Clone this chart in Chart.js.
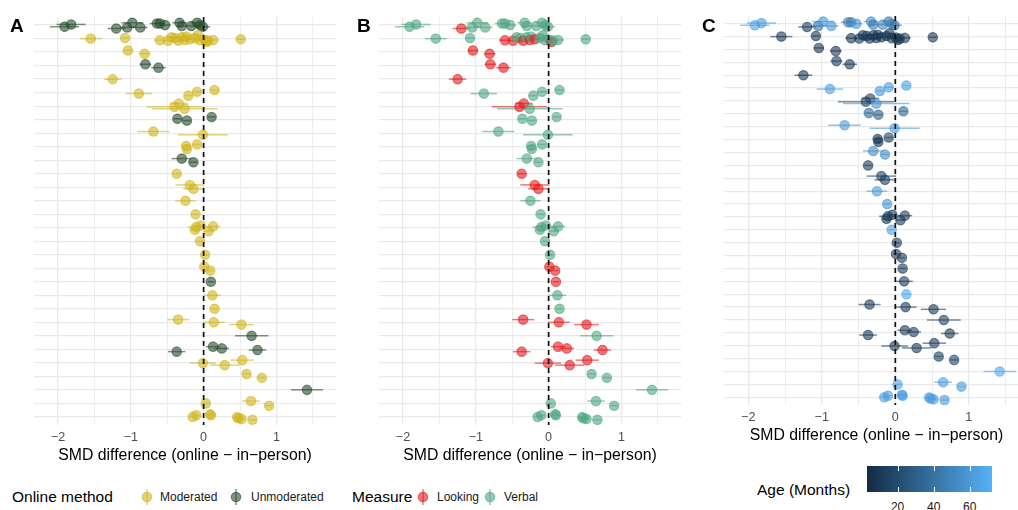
<!DOCTYPE html>
<html lang="en">
<head>
<meta charset="UTF-8">
<title>SMD difference between online and in-person studies</title>
<script src="https://cdn.jsdelivr.net/npm/chart.js"></script>
<style>
  html, body { margin: 0; padding: 0; width: 1018px; height: 510px; overflow: hidden; background: #fff;
    font-family: "Liberation Sans", Arial, Helvetica, sans-serif; color: #000; }
  canvas { position: absolute; top: 0; }
  #panelA { left: 0; }
  #panelB { left: 345px; }
  #panelC { left: 690px; }
  .tag { position: absolute; top: 16px; font-size: 19px; font-weight: bold; line-height: 19px; }
  .ltitle, .llabel, .tick { position: absolute; white-space: nowrap; line-height: 20px; }
  .ltitle { font-size: 15.5px; }
  .llabel { font-size: 12px; color: #1a1a1a; }
  .key { position: absolute; }
  #colourbar { position: absolute; left: 867px; top: 466px; width: 125px; height: 26px; }
  .cbtick { position: absolute; width: 1px; height: 5px; background: #fff; }
  .tick { font-size: 12px; color: #1a1a1a; transform: translateX(-50%); top: 497px; }
</style>
</head>
<body>
  <canvas id="panelA" width="342" height="470"></canvas>
  <canvas id="panelB" width="342" height="470"></canvas>
  <canvas id="panelC" width="345" height="450"></canvas>

  <div class="tag" style="left:10px">A</div>
  <div class="tag" style="left:357px">B</div>
  <div class="tag" style="left:702px">C</div>

  <div class="ltitle" style="left:12px;top:487px">Online method</div>
  <svg class="key" id="keyM" style="left:139px;top:487px" width="16" height="20"></svg>
  <div class="llabel" style="left:160px;top:487px">Moderated</div>
  <svg class="key" id="keyU" style="left:228px;top:487px" width="16" height="20"></svg>
  <div class="llabel" style="left:251px;top:487px">Unmoderated</div>

  <div class="ltitle" style="left:352px;top:487px">Measure</div>
  <svg class="key" id="keyL" style="left:415px;top:487px" width="16" height="20"></svg>
  <div class="llabel" style="left:437px;top:487px">Looking</div>
  <svg class="key" id="keyV" style="left:482px;top:487px" width="16" height="20"></svg>
  <div class="llabel" style="left:504px;top:487px">Verbal</div>

  <div class="ltitle" style="left:757px;top:480px">Age (Months)</div>
  <div id="colourbar"></div>

<script>
// one inner array per row of the plot (row 1 = top)
const rowSmd = [
  [-1.91, -1.82, -1.20, -1.05, -0.98, -0.87, -0.64, -0.60, -0.53, -0.33, -0.30, -0.17, -0.09, -0.05, -0.01],
  [-1.55, -1.08, -0.60, -0.49, -0.44, -0.39, -0.35, -0.30, -0.26, -0.24, -0.19, -0.12, -0.08, -0.05, 0.01, 0.04, 0.06, 0.13, 0.51],
  [-1.04, -0.81], [-0.80, -0.62], [-1.25], [-0.89, -0.21, -0.09, 0.15], [-0.40, -0.34, -0.26],
  [-0.36, -0.23, 0.11], [-0.69, -0.01], [-0.24, -0.23, -0.09], [-0.30, -0.14], [-0.37], [-0.19, -0.14],
  [-0.25], [-0.11], [-0.10, -0.12, -0.04, 0.13, 0.07], [-0.05], [0.02], [0.01, 0.09], [0.10], [0.12], [0.15],
  [-0.35, 0.14, 0.52], [0.66], [-0.37, 0.13, 0.25, 0.74], [-0.01, 0.29, 0.53], [0.59, 0.80], [1.42],
  [0.03, 0.65, 0.90], [-0.15, -0.10, 0.09, 0.10, 0.46, 0.48, 0.52, 0.67]
];
// small vertical spread of the points inside a row (in rows)
const rowJitter = [
  [0.12, -0.05, 0.25, 0.17, -0.17, 0.17, -0.12, -0.12, 0, -0.17, 0.07, 0.07, -0.17, 0, 0.12],
  [0, -0.05, 0.12, 0.15, -0.1, -0.05, 0.15, -0.1, 0.1, -0.15, 0.05, -0.05, -0.25, 0.12, 0.08, 0.25, 0.15, 0.1, 0.05],
  [-0.12, 0.12], [-0.1, 0.15], [0], [0.07, 0.22, -0.07, -0.2], [0.05, -0.2, 0.2],
  [-0.07, 0.07, -0.2], [-0.12, 0.12], [-0.05, 0.17, -0.17], [-0.12, 0.15], [0], [-0.17, 0.12],
  [0], [0], [-0.05, 0.15, -0.17, -0.1, 0.25], [0], [0], [-0.12, 0.17], [0], [0], [0],
  [-0.2, 0, 0.17], [0], [0.17, -0.2, -0.07, 0.05], [0.02, 0.17, -0.2], [-0.17, 0.1], [0],
  [0, -0.17, 0.17], [0, -0.12, -0.2, -0.12, 0.02, 0.1, 0.15, 0.22]
];
// half width of the interval
const rowHalfCI = [
  [0.2, 0.2, 0.12, 0.1, 0.15, 0.1, 0.1, 0.06, 0.08, 0.1, 0.06, 0.08, 0.08, 0.06, 0.1],
  [0.15, 0.05, 0.08, 0.06, 0.06, 0.06, 0.06, 0.06, 0.06, 0.06, 0.06, 0.06, 0.06, 0.06, 0.06, 0.06, 0.06, 0.08, 0.05],
  [0.07, 0.08], [0.08, 0.1], [0.12], [0.18, 0.05, 0.06, 0.06], [0.38, 0.12, 0.45],
  [0.05, 0.05, 0.05], [0.22, 0.34], [0.05, 0.05, 0.05], [0.14, 0.05], [0.05], [0.2, 0.14],
  [0.14], [0.04], [0.12, 0.06, 0.06, 0.1, 0.06], [0.04], [0.04], [0.04, 0.04], [0.04], [0.12], [0.04],
  [0.15, 0.15, 0.17], [0.23], [0.12, 0.1, 0.1, 0.12], [0.18, 0.2, 0.16], [0.05, 0.05], [0.22],
  [0.04, 0.12, 0.05], [0.05, 0.05, 0.05, 0.05, 0.05, 0.05, 0.05, 0.05]
];
// M = moderated, U = unmoderated
const rowMethod = [
  'UUUUUUUUUUUUUUU', 'MMMMMMMMMMMMMMMMMMM', 'MM', 'UU', 'M', 'MMMM', 'MMM', 'UUU', 'MM', 'MMM', 'UU', 'M', 'MM',
  'M', 'M', 'MMMMM', 'M', 'M', 'MM', 'U', 'M', 'M', 'MMM', 'U', 'UUUU', 'MMM', 'MM', 'U', 'MMM', 'MMMMMMMM'
];
// L = looking, V = verbal
const rowMeasure = [
  'VVLVVVVVVVVVVVV', 'VVLLVVLVLVLVVVVLVVV', 'LL', 'LL', 'L', 'VVVV', 'LLV', 'VVV', 'VV', 'VVV', 'VV', 'L', 'LL',
  'V', 'V', 'VVVVV', 'V', 'V', 'LL', 'L', 'V', 'V', 'LLL', 'V', 'LLLL', 'LLL', 'VV', 'V', 'VVV', 'VVVVVVVV'
];
const rowAge = [
  [65, 62, 12, 40, 60, 60, 45, 45, 60, 55, 45, 50, 45, 50, 40],
  [10, 10, 8, 9, 11, 10, 8, 12, 9, 10, 8, 11, 12, 10, 9, 8, 11, 12, 10],
  [10, 10], [12, 12], [10], [62, 60, 62, 65], [15, 15, 58], [35, 30, 35], [62, 62], [10, 10, 15], [55, 55],
  [12], [15, 15], [60], [58], [12, 12, 12, 12, 12], [65], [12], [12, 12], [10], [12], [68], [12, 12, 12], [15],
  [12, 12, 12, 12], [12, 12, 12], [15, 15], [68], [65, 62, 62], [62, 62, 62, 62, 62, 62, 62, 62]
];

const xTicks = [-2, -1.5, -1, -0.5, 0, 0.5, 1, 1.5];
const xRange = [-2.33, 1.82];
const ageTicks = [20, 40, 60];
const ageRange = [3, 72.4];
const xTitle = 'SMD difference (online \u2212 in\u2212person)';

const methodRGB = { M: [208, 182, 34], U: [40, 76, 46] };
const measureRGB = { L: [226, 28, 30], V: [82, 166, 132] };
const ageLow = [19, 43, 67];
const ageHigh = [86, 177, 247];

const rgba = (c, a) => `rgba(${c[0]},${c[1]},${c[2]},${a})`;
function ageRGB(a) {
  const t = (a - ageRange[0]) / (ageRange[1] - ageRange[0]);
  return ageLow.map((c, k) => Math.round(c + (ageHigh[k] - c) * t));
}

const points = [];
rowSmd.forEach((vals, r) => vals.forEach((v, i) => points.push({
  x: v, y: r + 1 + rowJitter[r][i], lo: v - rowHalfCI[r][i], hi: v + rowHalfCI[r][i],
  method: rowMethod[r][i], measure: rowMeasure[r][i], age: rowAge[r][i]
})));
const rows = rowSmd.map((_, r) => r + 1);

Chart.defaults.font.family = '"Liberation Sans", Arial, Helvetica, sans-serif';

const minus = v => (v < 0 ? '\u2212' + Math.abs(v) : String(v));

function buildPanel(id, colourOf, pad) {
  const errorBars = {
    id: 'errorBars',
    beforeDatasetsDraw(chart) {
      const { ctx, scales: { x, y } } = chart;
      ctx.save();
      ctx.lineWidth = 1.5;
      points.forEach(p => {
        const py = y.getPixelForValue(p.y);
        ctx.strokeStyle = rgba(colourOf(p), 0.6);
        ctx.beginPath();
        ctx.moveTo(x.getPixelForValue(p.lo), py);
        ctx.lineTo(x.getPixelForValue(p.hi), py);
        ctx.stroke();
      });
      ctx.restore();
    }
  };
  const zeroLine = {
    id: 'zeroLine',
    afterDatasetsDraw(chart) {
      const { ctx, chartArea: a, scales: { x } } = chart;
      const px = x.getPixelForValue(0);
      ctx.save();
      ctx.setLineDash([5, 4]);
      ctx.lineWidth = 1.7;
      ctx.strokeStyle = '#111';
      ctx.beginPath();
      ctx.moveTo(px, a.top);
      ctx.lineTo(px, a.bottom);
      ctx.stroke();
      ctx.restore();
    }
  };

  new Chart(document.getElementById(id), {
    type: 'scatter',
    data: {
      datasets: [{
        data: points,
        pointRadius: 4.7,
        pointHoverRadius: 4.7,
        borderWidth: 1.2,
        backgroundColor: c => rgba(colourOf(c.raw), 0.6),
        borderColor: c => rgba(colourOf(c.raw), 0.6)
      }]
    },
    options: {
      responsive: false,
      animation: false,
      events: [],
      layout: { padding: pad },
      plugins: { legend: { display: false }, tooltip: { enabled: false } },
      scales: {
        x: {
          type: 'linear', min: xRange[0], max: xRange[1],
          afterBuildTicks: ax => { ax.ticks = xTicks.map(v => ({ value: v })); },
          afterFit: s => { s.height = 40; },
          ticks: { autoSkip: false, maxRotation: 0, padding: 5, color: '#4d4d4d', font: { size: 12.6 },
            callback: v => (Number.isInteger(v) ? minus(v) : '') },
          grid: { color: '#e9e9e9', drawTicks: false, lineWidth: c => (Number.isInteger(c.tick.value) ? 1.3 : 0.8) },
          border: { display: false },
          title: { display: true, text: xTitle, color: '#000', font: { size: 15.8 }, padding: { top: 0, bottom: 0 } }
        },
        y: {
          type: 'linear', reverse: true, min: 0.4, max: rows.length + 0.6,
          afterBuildTicks: ax => { ax.ticks = rows.map(v => ({ value: v })); },
          afterFit: s => { s.width = 0; },
          ticks: { display: false },
          grid: { color: '#e9e9e9', drawTicks: false, lineWidth: 1.3 },
          border: { display: false }
        }
      }
    },
    plugins: [errorBars, zeroLine]
  });
}

buildPanel('panelA', p => methodRGB[p.method], { left: 34, right: 2, top: 17, bottom: 5 });
buildPanel('panelB', p => measureRGB[p.measure], { left: 34, right: 2, top: 17, bottom: 5 });
buildPanel('panelC', p => ageRGB(p.age), { left: 34, right: 4.5, top: 16, bottom: 5 });

// legend keys: point with a line through it
function drawKey(id, rgb) {
  const svg = document.getElementById(id);
  svg.innerHTML = `<line x1="8" y1="2" x2="8" y2="18" stroke="${rgba(rgb, 0.6)}" stroke-width="1.5"/>` +
    `<circle cx="8" cy="10" r="4.7" fill="${rgba(rgb, 0.6)}" stroke="${rgba(rgb, 0.6)}" stroke-width="1.2"/>`;
}
drawKey('keyM', methodRGB.M);
drawKey('keyU', methodRGB.U);
drawKey('keyL', measureRGB.L);
drawKey('keyV', measureRGB.V);

// colour bar for age
const bar = document.getElementById('colourbar');
bar.style.background = `linear-gradient(to right, rgb(${ageLow.join(',')}), rgb(${ageHigh.join(',')}))`;
ageTicks.forEach(t => {
  const frac = (t - ageRange[0]) / (ageRange[1] - ageRange[0]);
  const px = 867 + frac * 125;
  ['top:466px', 'top:487px'].forEach(pos => {
    const m = document.createElement('div');
    m.className = 'cbtick';
    m.style.cssText = `left:${px}px;${pos}`;
    document.body.appendChild(m);
  });
  const lab = document.createElement('div');
  lab.className = 'tick';
  lab.style.left = px + 'px';
  lab.textContent = t;
  document.body.appendChild(lab);
});
</script>
</body>
</html>
